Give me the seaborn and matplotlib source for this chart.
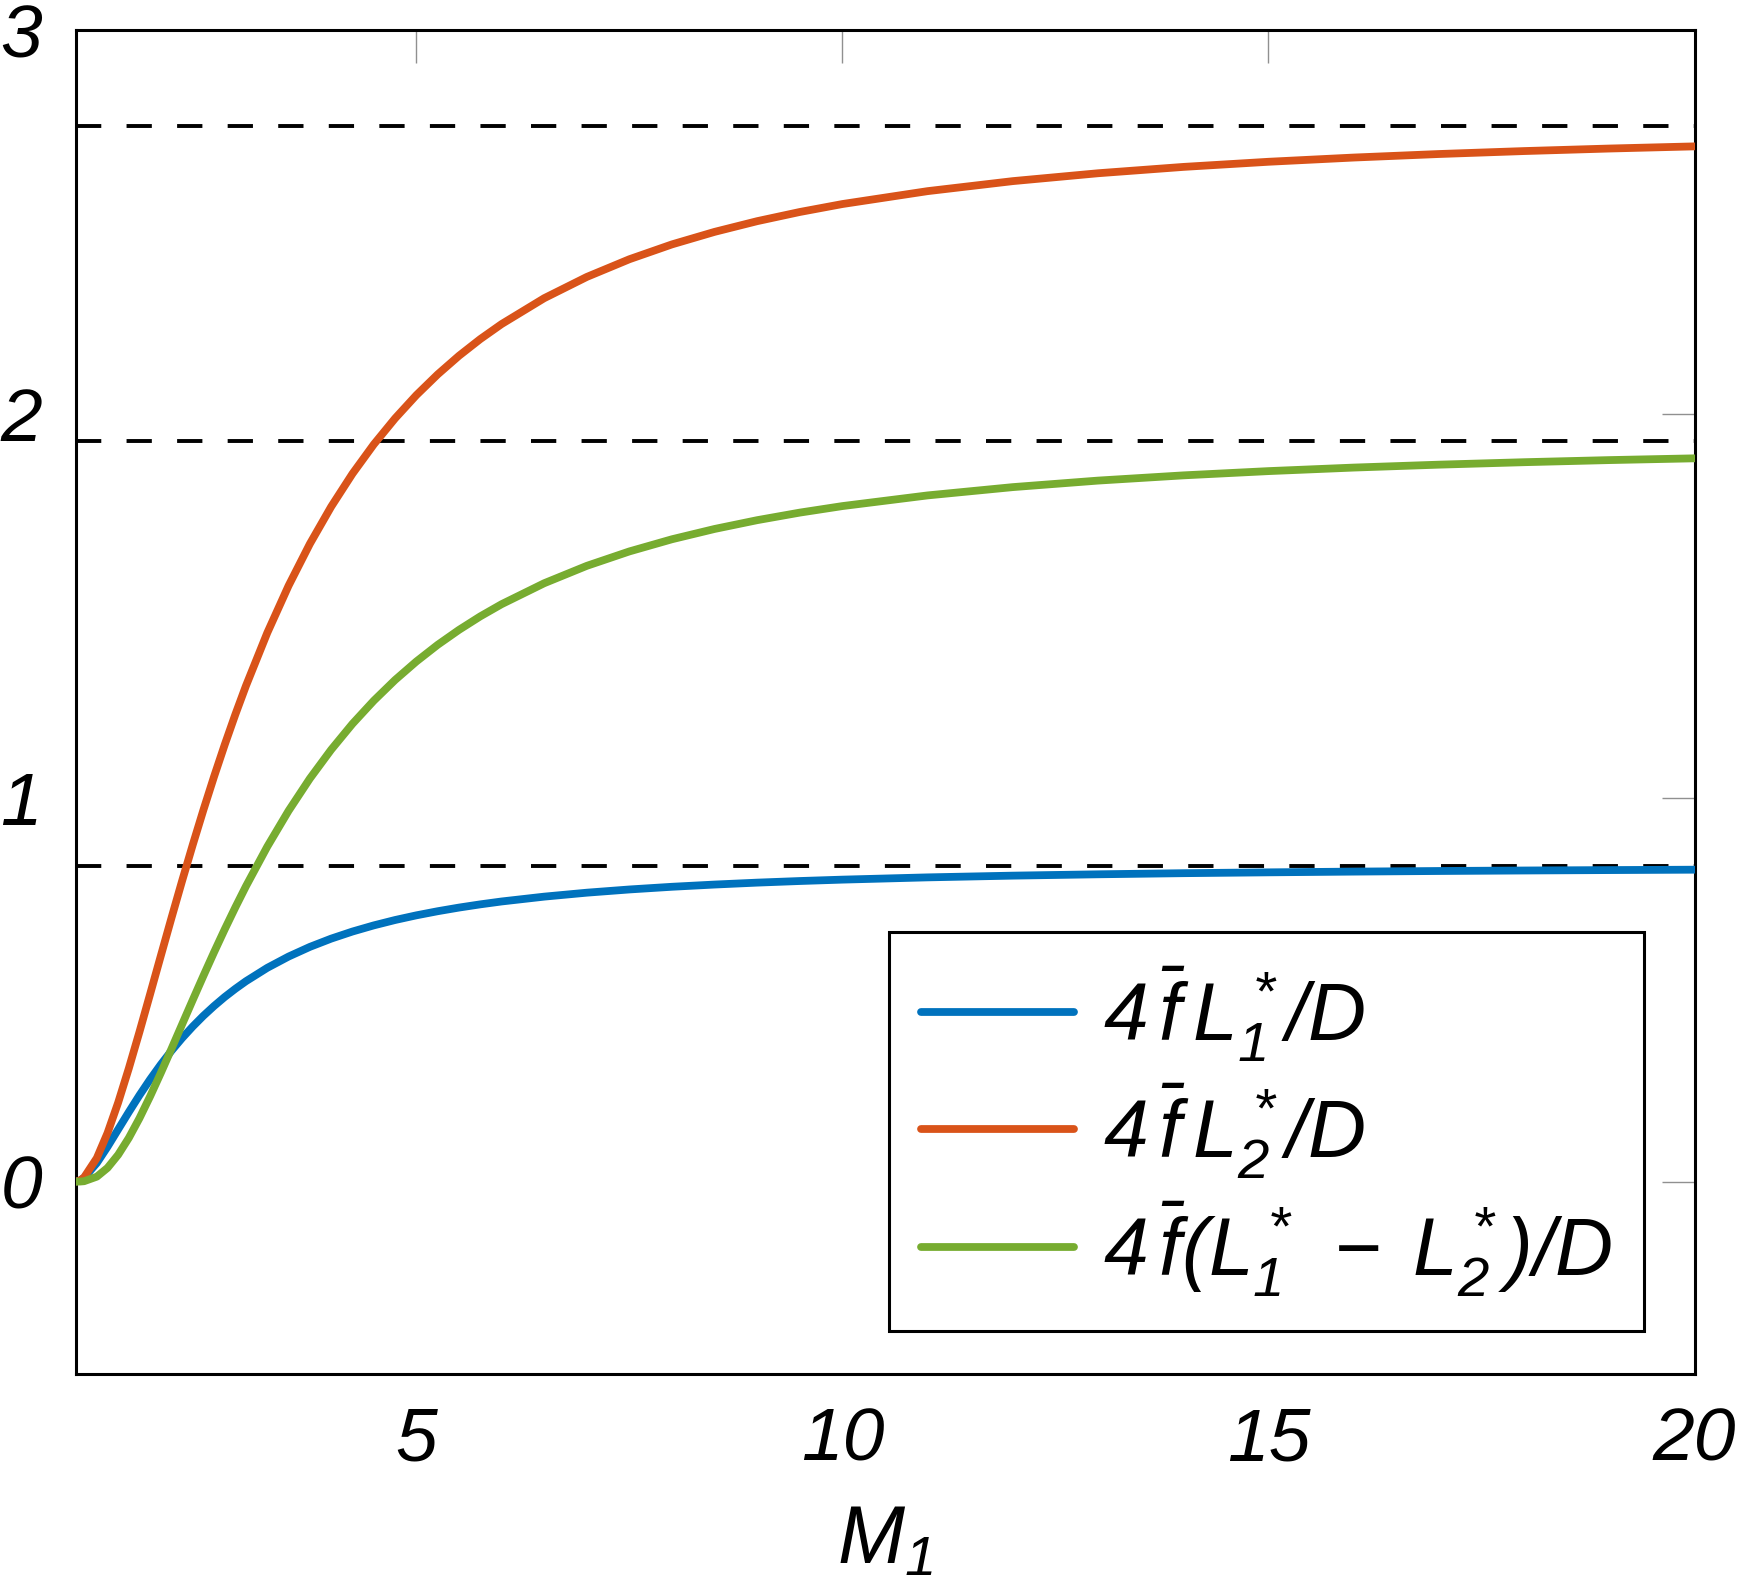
import numpy as np
import pandas as pd
import seaborn as sns
import matplotlib.pyplot as plt

mach = [1.0, 1.05, 1.1, 1.25, 1.375, 1.5, 1.625, 1.75, 1.875, 2.0,
        2.125, 2.25, 2.375, 2.5, 2.625, 2.75, 2.875, 3.0,
        3.25, 3.5, 3.75, 4.0, 4.25, 4.5, 4.75, 5.0,
        5.25, 5.5, 5.75, 6.0, 6.5, 7.0, 7.5, 8.0, 8.5, 9.0, 9.5, 10.0,
        11.0, 12.0, 13.0, 14.0, 15.0, 16.0, 17.0, 18.0, 19.0, 20.0]
fl1 = [0.0, 0.0027, 0.0099, 0.0486, 0.0908, 0.1361, 0.1813, 0.2251, 0.2664, 0.3050,
       0.3408, 0.3738, 0.4041, 0.4320, 0.4575, 0.4810, 0.5024, 0.5222,
       0.5570, 0.5864, 0.6116, 0.6331, 0.6516, 0.6676, 0.6816, 0.6938,
       0.7045, 0.7140, 0.7224, 0.7299, 0.7425, 0.7528, 0.7612, 0.7682, 0.7740, 0.7790, 0.7832, 0.7868,
       0.7927, 0.7972, 0.8007, 0.8036, 0.8058, 0.8077, 0.8093, 0.8106, 0.8117, 0.8127]
fl2 = [0.0, 0.0029, 0.0110, 0.0616, 0.1266, 0.2060, 0.2951, 0.3902, 0.4886, 0.5879,
       0.6865, 0.7833, 0.8773, 0.9680, 1.0550, 1.1380, 1.2170, 1.2919,
       1.4298, 1.5526, 1.6617, 1.7585, 1.8444, 1.9207, 1.9885, 2.0491,
       2.1031, 2.1516, 2.1951, 2.2342, 2.3016, 2.3570, 2.4031, 2.4418, 2.4744, 2.5023, 2.5262, 2.5469,
       2.5805, 2.6066, 2.6271, 2.6436, 2.6570, 2.6680, 2.6772, 2.6849, 2.6915, 2.6971]
fl12 = [0.0, 0.0002, 0.0011, 0.0130, 0.0358, 0.0700, 0.1138, 0.1652, 0.2222, 0.2829,
        0.3457, 0.4095, 0.4732, 0.5360, 0.5975, 0.6571, 0.7145, 0.7697,
        0.8728, 0.9662, 1.0502, 1.1254, 1.1928, 1.2530, 1.3070, 1.3552,
        1.3986, 1.4375, 1.4727, 1.5044, 1.5590, 1.6043, 1.6419, 1.6736, 1.7004, 1.7233, 1.7430, 1.7600,
        1.7878, 1.8094, 1.8264, 1.8400, 1.8511, 1.8603, 1.8679, 1.8743, 1.8798, 1.8844]
limits = [0.8215, 1.9285, 2.7500]

labels = [r'$4\,\bar{f}\,L_1^*/D$', r'$4\,\bar{f}\,L_2^*/D$',
          r'$4\,\bar{f}(L_1^*\;-\;L_2^*)/D$']
colors = ['#0072BD', '#D95319', '#77AC30']

df = pd.DataFrame({'M1': mach, 'a': fl1, 'b': fl2, 'c': fl12})

sns.set_style('white')
plt.rcParams['font.family'] = ['Liberation Sans', 'DejaVu Sans']
plt.rcParams['font.style'] = 'italic'
plt.rcParams['text.color'] = 'black'
plt.rcParams['mathtext.fontset'] = 'custom'
plt.rcParams['mathtext.rm'] = 'Liberation Sans:italic'
plt.rcParams['mathtext.it'] = 'Liberation Sans:italic'
plt.rcParams['mathtext.sf'] = 'Liberation Sans:italic'

fig = plt.figure(figsize=(17.41, 15.85), dpi=100)
ax = fig.add_axes([0.0434, 0.1334, 0.9299, 0.8476])

for y in limits:
    ax.axhline(y, color='black', lw=2.8, ls=(0, (6.5, 6.5)), zorder=1)

for col, lab, c in zip(['a', 'b', 'c'], labels, colors):
    sns.lineplot(data=df, x='M1', y=col, ax=ax, color=c, lw=5.6, label=lab, zorder=3)

ax.set_xlim(1, 20)
ax.set_ylim(-0.5, 3)
ax.set_xticks([5, 10, 15, 20])
ax.set_yticks([0, 1, 2, 3])
ax.set_xlabel(r'$M_1$', fontsize=58, labelpad=20, color='black')
ax.set_ylabel('')
ax.tick_params(direction='in', length=24, width=1, color='#909090',
               top=True, right=True, labelsize=54, pad=24, labelcolor='black')
for lab in ax.get_xticklabels() + ax.get_yticklabels():
    lab.set_fontstyle('italic')
for s in ax.spines.values():
    s.set_linewidth(2.2)
    s.set_color('black')

leg = ax.legend(loc='lower right', bbox_to_anchor=(0.9688, 0.0317), borderaxespad=0,
                fontsize=58, handlelength=1.9, handletextpad=0.35, labelspacing=0.22,
                borderpad=0.4, fancybox=False, framealpha=1, edgecolor='black')
leg.get_frame().set_linewidth(2.2)

fig.savefig('out.png', dpi=100)
